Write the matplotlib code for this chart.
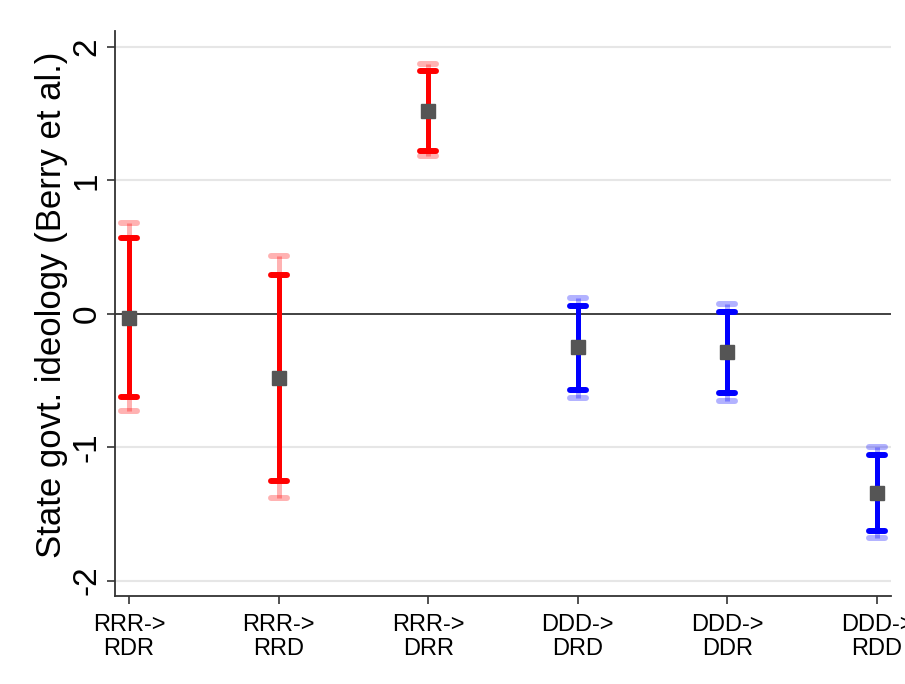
import matplotlib
matplotlib.use("Agg")
import matplotlib.pyplot as plt
import numpy as np

plt.rcParams['font.family'] = ['Liberation Sans', 'DejaVu Sans']

# Transition categories and estimates
categories = ["RRR->\nRDR", "RRR->\nRRD", "RRR->\nDRR", "DDD->\nDRD", "DDD->\nDDR", "DDD->\nRDD"]
estimates = [-0.03, -0.48, 1.52, -0.25, -0.29, -1.34]
ci90_low = [-0.62, -1.25, 1.22, -0.57, -0.59, -1.63]
ci90_high = [0.57, 0.29, 1.82, 0.06, 0.01, -1.06]
ci95_low = [-0.73, -1.38, 1.18, -0.63, -0.65, -1.68]
ci95_high = [0.68, 0.43, 1.87, 0.12, 0.07, -1.00]
colors = ["#FF0000", "#FF0000", "#FF0000", "#0000FF", "#0000FF", "#0000FF"]
yticks = [-2, -1, 0, 1, 2]

fig = plt.figure(figsize=(9.05, 6.84), dpi=100)
ax = fig.add_axes([0.127, 0.1287, 0.8575, 0.826])

x = np.arange(1, len(categories) + 1)
cap_half = 0.053

for yt in yticks:
    if yt != 0:
        ax.axhline(yt, color="#E6E6E6", lw=1.5, zorder=0)
ax.axhline(0, color="#333333", lw=1.3, zorder=1)

for xi, c, lo95, hi95, lo90, hi90 in zip(x, colors, ci95_low, ci95_high, ci90_low, ci90_high):
    # wider interval, faded
    ax.vlines(xi, lo95, hi95, color=c, alpha=0.3, lw=3.6, zorder=2, capstyle="butt")
    ax.hlines([lo95, hi95], xi - cap_half, xi + cap_half, color=c, alpha=0.3,
              lw=4.3, capstyle="round", zorder=2)
    # narrower interval, solid
    ax.vlines(xi, lo90, hi90, color=c, lw=3.6, zorder=3, capstyle="butt")
    ax.hlines([lo90, hi90], xi - cap_half, xi + cap_half, color=c,
              lw=4.3, capstyle="round", zorder=3)

ax.plot(x, estimates, linestyle="none", marker="s", markersize=10,
        color="#555555", zorder=4)

ax.set_xlim(0.906, 6.094)
ax.set_ylim(-2.115, 2.12)
ax.set_xticks(x)
ax.set_xticklabels(categories, fontsize=17, linespacing=1.1)
ax.set_yticks(yticks)
ax.set_yticklabels([str(v) for v in yticks], fontsize=24, rotation=90, va="center")
ax.set_ylabel("State govt. ideology (Berry et al.)", fontsize=25)
ax.yaxis.set_label_coords(-0.060, 0.515)

for side in ["top", "right"]:
    ax.spines[side].set_visible(False)
for side in ["left", "bottom"]:
    ax.spines[side].set_linewidth(1.3)
    ax.spines[side].set_color("#333333")
ax.tick_params(axis="both", direction="out", length=6, width=1.2, color="#333333")
ax.tick_params(axis="y", pad=3)
ax.tick_params(axis="x", pad=7)

fig.savefig("out.png", dpi=100)
